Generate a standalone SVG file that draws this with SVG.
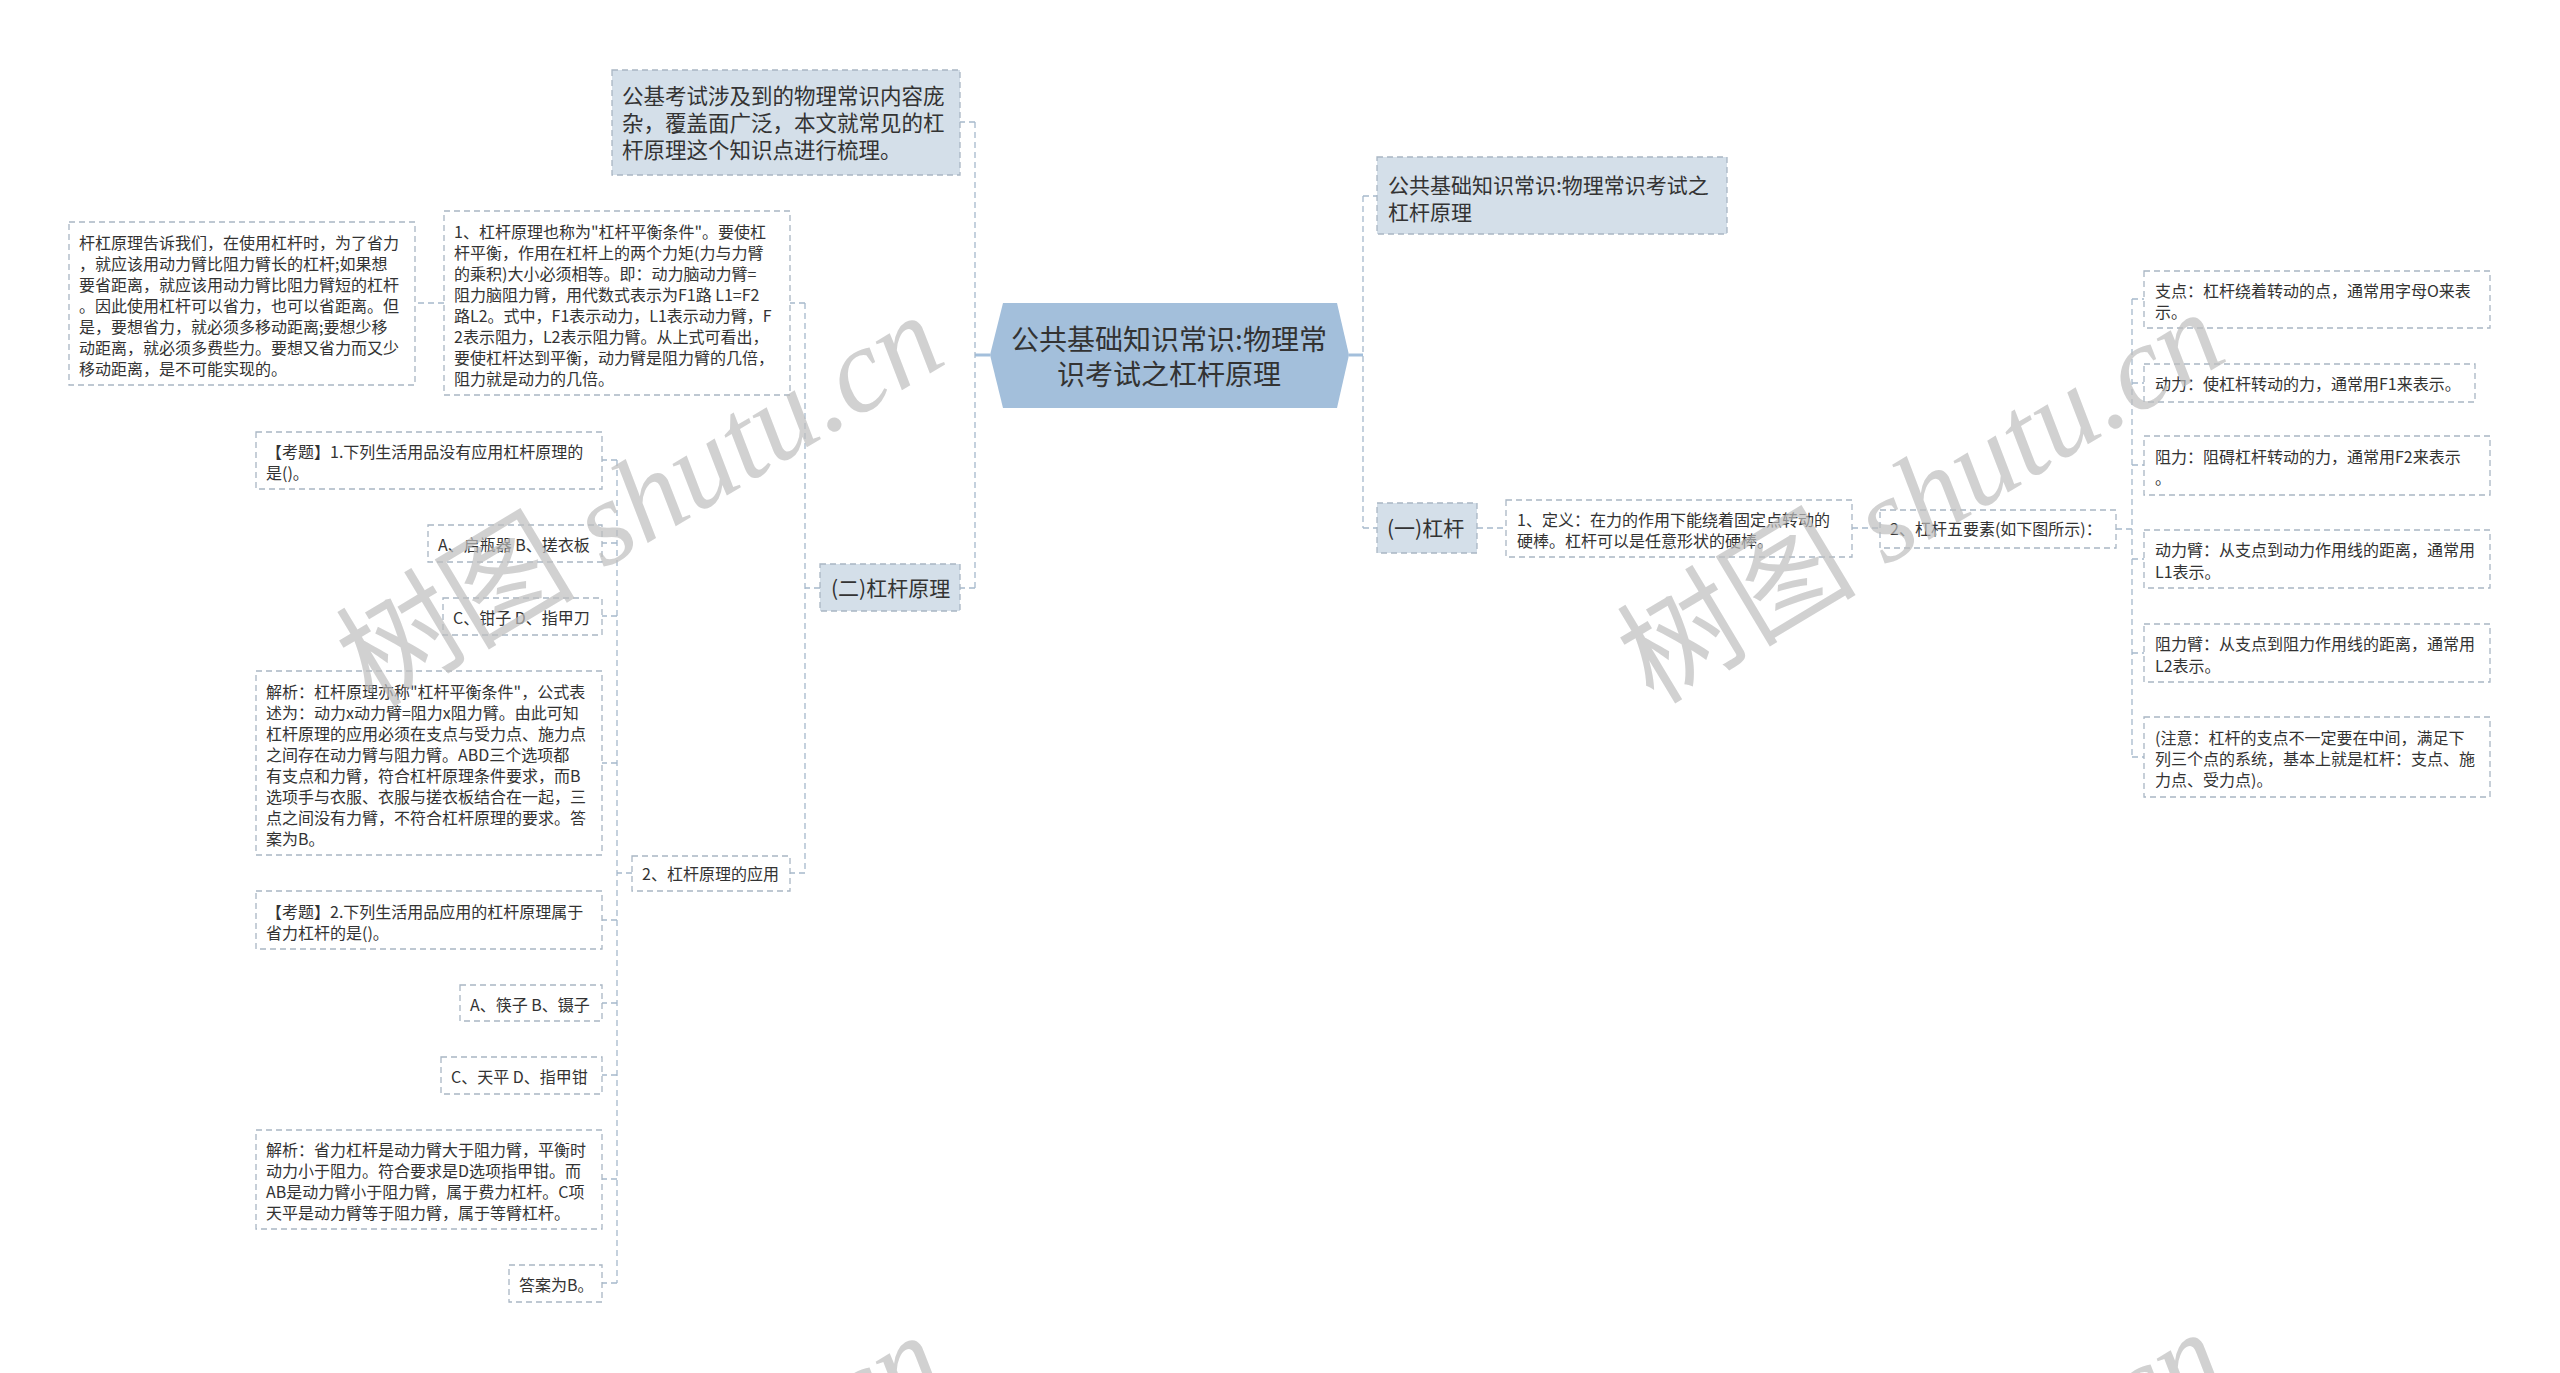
<svg xmlns="http://www.w3.org/2000/svg" width="2560" height="1373" viewBox="0 0 2560 1373">
<style>
.bx{fill:#ffffff;stroke:#a9b6c4;stroke-width:1.3;stroke-dasharray:6 4}
.fb{fill:#d4dfe9;stroke:#a9b6c4;stroke-width:1.3;stroke-dasharray:6 4}
.hex{fill:#a3bfdb}
.t{font-family:"Noto Sans CJK SC","Microsoft YaHei",sans-serif;font-size:16px;fill:#333333}
.tm{font-family:"Noto Sans CJK SC","Microsoft YaHei",sans-serif;font-size:21px;fill:#333333}
.tr{font-family:"Noto Sans CJK SC","Microsoft YaHei",sans-serif;font-size:28px;fill:#333333}
.conn{fill:none;stroke:#a6b9cc;stroke-width:1.3;stroke-dasharray:6 4}
.stub{fill:none;stroke:#a3bfdb;stroke-width:3}
.wm{font-size:120px;fill:#bdbdbd;fill-opacity:0.7}
.wmc{font-family:"Noto Sans CJK SC",sans-serif}
.wml{font-family:"Liberation Serif",serif;font-style:italic}
</style>
<rect x="0" y="0" width="2560" height="1373" fill="#ffffff"/>

<g id="connectors">
<path class="stub" d="M990 355H975 M1349 355H1363"/>
<path class="conn" d="M975 122V588 M975 122H960 M975 588H960"/>
<path class="conn" d="M1363 196V528 M1363 196H1377 M1363 528H1377"/>
<path class="conn" d="M820 588H805 M805 303V873 M805 303H790 M805 873H790"/>
<path class="conn" d="M444 303H415"/>
<path class="conn" d="M632 873H617 M617 460V1283 M617 460H602 M617 543H602 M617 616H602 M617 763H602 M617 920H602 M617 1003H602 M617 1075H602 M617 1179H602 M617 1283H602"/>
<path class="conn" d="M1477 528H1506 M1852 528H1880"/>
<path class="conn" d="M2116 529H2132 M2132 299V757 M2132 299H2144 M2132 383H2144 M2132 465H2144 M2132 559H2144 M2132 653H2144 M2132 757H2144"/>
</g>

<g id="root">
<polygon class="hex" points="990,355 1003,303 1337,303 1349,355 1337,408 1003,408"/>
<text class="tr" text-anchor="middle"><tspan x="1169" y="350">公共基础知识常识:物理常</tspan><tspan x="1169" y="385">识考试之杠杆原理</tspan></text>
</g>

<g id="intro">
<rect class="fb" x="612" y="70" width="348" height="105"/>
<text class="tm" style="font-size:21.5px"><tspan x="622" y="104">公基考试涉及到的物理常识内容庞</tspan><tspan x="622" y="131">杂，覆盖面广泛，本文就常见的杠</tspan><tspan x="622" y="158">杆原理这个知识点进行梳理。</tspan></text>
</g>

<g id="title-right">
<rect class="fb" x="1377" y="157" width="350" height="77"/>
<text class="tm"><tspan x="1388" y="193">公共基础知识常识:物理常识考试之</tspan><tspan x="1388" y="220">杠杆原理</tspan></text>
</g>

<g id="lever-principle">
<rect class="fb" x="820" y="564" width="140" height="47"/>
<text class="tm"><tspan x="831" y="596">(二)杠杆原理</tspan></text>
</g>

<g id="principle-1">
<rect class="bx" x="444" y="211" width="346" height="184"/>
<text class="t"><tspan x="454" y="238">1、杠杆原理也称为"杠杆平衡条件"。要使杠</tspan><tspan x="454" y="259">杆平衡，作用在杠杆上的两个力矩(力与力臂</tspan><tspan x="454" y="280">的乘积)大小必须相等。即：动力脑动力臂=</tspan><tspan x="454" y="301">阻力脑阻力臂，用代数式表示为F1路 L1=F2</tspan><tspan x="454" y="322">路L2。式中，F1表示动力，L1表示动力臂，F</tspan><tspan x="454" y="343">2表示阻力，L2表示阻力臂。从上式可看出，</tspan><tspan x="454" y="364">要使杠杆达到平衡，动力臂是阻力臂的几倍，</tspan><tspan x="454" y="385">阻力就是动力的几倍。</tspan></text>
</g>

<g id="principle-note">
<rect class="bx" x="69" y="222" width="346" height="163"/>
<text class="t"><tspan x="79" y="249">杆杠原理告诉我们，在使用杠杆时，为了省力</tspan><tspan x="79" y="270">，就应该用动力臂比阻力臂长的杠杆;如果想</tspan><tspan x="79" y="291">要省距离，就应该用动力臂比阻力臂短的杠杆</tspan><tspan x="79" y="312">。因此使用杠杆可以省力，也可以省距离。但</tspan><tspan x="79" y="333">是，要想省力，就必须多移动距离;要想少移</tspan><tspan x="79" y="354">动距离，就必须多费些力。要想又省力而又少</tspan><tspan x="79" y="375">移动距离，是不可能实现的。</tspan></text>
</g>

<g id="application">
<rect class="bx" x="632" y="856" width="158" height="35"/>
<text class="t"><tspan x="642" y="880">2、杠杆原理的应用</tspan></text>
</g>

<g id="q1">
<rect class="bx" x="256" y="432" width="346" height="57"/>
<text class="t"><tspan x="266" y="458">【考题】1.下列生活用品没有应用杠杆原理的</tspan><tspan x="266" y="479">是()。</tspan></text>
</g>
<g id="q1-ab">
<rect class="bx" x="428" y="525" width="174" height="37"/>
<text class="t"><tspan x="438" y="551">A、启瓶器 B、搓衣板</tspan></text>
</g>
<g id="q1-cd">
<rect class="bx" x="443" y="598" width="159" height="37"/>
<text class="t"><tspan x="453" y="624">C、钳子 D、指甲刀</tspan></text>
</g>
<g id="q1-analysis">
<rect class="bx" x="256" y="671" width="346" height="184"/>
<text class="t"><tspan x="266" y="698">解析：杠杆原理亦称"杠杆平衡条件"，公式表</tspan><tspan x="266" y="719">述为：动力x动力臂=阻力x阻力臂。由此可知</tspan><tspan x="266" y="740">杠杆原理的应用必须在支点与受力点、施力点</tspan><tspan x="266" y="761">之间存在动力臂与阻力臂。ABD三个选项都</tspan><tspan x="266" y="782">有支点和力臂，符合杠杆原理条件要求，而B</tspan><tspan x="266" y="803">选项手与衣服、衣服与搓衣板结合在一起，三</tspan><tspan x="266" y="824">点之间没有力臂，不符合杠杆原理的要求。答</tspan><tspan x="266" y="845">案为B。</tspan></text>
</g>
<g id="q2">
<rect class="bx" x="256" y="891" width="346" height="58"/>
<text class="t"><tspan x="266" y="918">【考题】2.下列生活用品应用的杠杆原理属于</tspan><tspan x="266" y="939">省力杠杆的是()。</tspan></text>
</g>
<g id="q2-ab">
<rect class="bx" x="460" y="985" width="142" height="36"/>
<text class="t"><tspan x="470" y="1011">A、筷子 B、镊子</tspan></text>
</g>
<g id="q2-cd">
<rect class="bx" x="441" y="1057" width="161" height="37"/>
<text class="t"><tspan x="451" y="1083">C、天平 D、指甲钳</tspan></text>
</g>
<g id="q2-analysis">
<rect class="bx" x="256" y="1130" width="346" height="99"/>
<text class="t"><tspan x="266" y="1156">解析：省力杠杆是动力臂大于阻力臂，平衡时</tspan><tspan x="266" y="1177">动力小于阻力。符合要求是D选项指甲钳。而</tspan><tspan x="266" y="1198">AB是动力臂小于阻力臂，属于费力杠杆。C项</tspan><tspan x="266" y="1219">天平是动力臂等于阻力臂，属于等臂杠杆。</tspan></text>
</g>
<g id="q2-answer">
<rect class="bx" x="509" y="1265" width="93" height="37"/>
<text class="t"><tspan x="519" y="1291">答案为B。</tspan></text>
</g>

<g id="lever">
<rect class="fb" x="1377" y="503" width="100" height="50"/>
<text class="tm"><tspan x="1387" y="536">(一)杠杆</tspan></text>
</g>
<g id="definition">
<rect class="bx" x="1506" y="500" width="346" height="57"/>
<text class="t"><tspan x="1517" y="526">1、定义：在力的作用下能绕着固定点转动的</tspan><tspan x="1517" y="547">硬棒。杠杆可以是任意形状的硬棒。</tspan></text>
</g>
<g id="five-elements">
<rect class="bx" x="1880" y="510" width="236" height="38"/>
<text class="t"><tspan x="1890" y="535">2、杠杆五要素(如下图所示)：</tspan></text>
</g>
<g id="fulcrum">
<rect class="bx" x="2144" y="271" width="346" height="57"/>
<text class="t"><tspan x="2155" y="297">支点：杠杆绕着转动的点，通常用字母O来表</tspan><tspan x="2155" y="318">示。</tspan></text>
</g>
<g id="effort">
<rect class="bx" x="2144" y="364" width="331" height="38"/>
<text class="t"><tspan x="2155" y="390">动力：使杠杆转动的力，通常用F1来表示。</tspan></text>
</g>
<g id="resistance">
<rect class="bx" x="2144" y="436" width="346" height="59"/>
<text class="t"><tspan x="2155" y="463">阻力：阻碍杠杆转动的力，通常用F2来表示</tspan><tspan x="2155" y="484">。</tspan></text>
</g>
<g id="effort-arm">
<rect class="bx" x="2144" y="530" width="346" height="58"/>
<text class="t"><tspan x="2155" y="556">动力臂：从支点到动力作用线的距离，通常用</tspan><tspan x="2155" y="578">L1表示。</tspan></text>
</g>
<g id="resistance-arm">
<rect class="bx" x="2144" y="624" width="346" height="58"/>
<text class="t"><tspan x="2155" y="650">阻力臂：从支点到阻力作用线的距离，通常用</tspan><tspan x="2155" y="672">L2表示。</tspan></text>
</g>
<g id="note">
<rect class="bx" x="2144" y="717" width="346" height="80"/>
<text class="t"><tspan x="2155" y="744">(注意：杠杆的支点不一定要在中间，满足下</tspan><tspan x="2155" y="765">列三个点的系统，基本上就是杠杆：支点、施</tspan><tspan x="2155" y="786">力点、受力点)。</tspan></text>
</g>

<g id="watermarks" class="wm">
<text transform="translate(661 535) rotate(-31)" text-anchor="middle"><tspan class="wmc">树图</tspan><tspan class="wml"> shutu.cn</tspan></text>
<text transform="translate(1942 532) rotate(-31)" text-anchor="middle"><tspan class="wmc">树图</tspan><tspan class="wml"> shutu.cn</tspan></text>
<text transform="translate(661 1555) rotate(-31)" text-anchor="middle"><tspan class="wmc">树图</tspan><tspan class="wml"> shutu.cn</tspan></text>
<text transform="translate(1942 1552) rotate(-31)" text-anchor="middle"><tspan class="wmc">树图</tspan><tspan class="wml"> shutu.cn</tspan></text>
</g>
</svg>
